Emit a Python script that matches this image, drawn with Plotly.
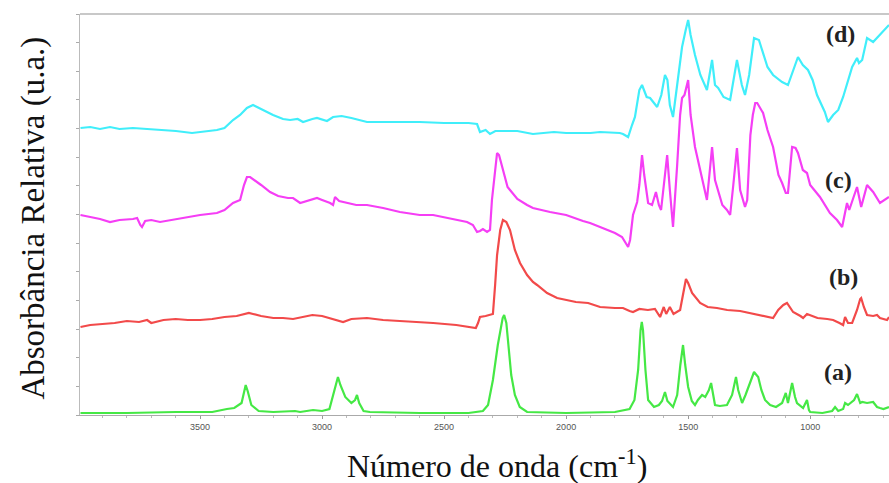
import plotly.graph_objects as go

# FTIR spectra, stacked with vertical offsets (wavenumber in cm-1, relative absorbance)
wn_a = [3990, 3800, 3600, 3450, 3390, 3360, 3330, 3318, 3313, 3305, 3290, 3260, 3200, 3111, 3090,
        3037, 3000, 2970, 2955, 2945, 2935, 2925, 2905, 2880, 2865, 2857, 2848, 2830, 2804, 2600,
        2400, 2341, 2320, 2300, 2280, 2260, 2254, 2245, 2225, 2210, 2190, 2160, 2000, 1800, 1740,
        1720, 1705, 1695, 1690, 1685, 1675, 1664, 1640, 1620, 1607, 1595, 1585, 1562, 1545, 1532,
        1521, 1512, 1500, 1485, 1472, 1460, 1443, 1430, 1415, 1406, 1398, 1390, 1370, 1341, 1320,
        1304, 1295, 1279, 1265, 1254, 1240, 1230, 1220, 1213, 1200, 1185, 1164, 1140, 1115, 1100,
        1091, 1074, 1062, 1054, 1029, 1013, 1005, 1000, 950, 910, 898, 885, 865, 857, 845,
        820, 808, 795, 787, 767, 742, 726, 714, 700, 677]
ab_a = [2, 2, 3, 3, 6, 7, 12, 25, 30, 24, 10, 4, 3, 4, 3,
        5, 4, 6, 20, 28, 38, 30, 18, 12, 15, 20, 12, 4, 3, 2,
        2, 4, 10, 35, 70, 97, 100, 92, 40, 20, 8, 3, 2, 3, 6,
        15, 45, 85, 93, 85, 45, 15, 8, 10, 14, 23, 14, 8, 20, 50,
        70, 50, 28, 14, 10, 15, 20, 18, 25, 32, 22, 10, 9, 10, 20,
        38, 25, 12, 20, 27, 35, 43, 40, 38, 25, 15, 10, 8, 12, 22,
        12, 32, 18, 12, 7, 15, 5, 3, 2, 4, 8, 4, 6, 12, 10,
        15, 21, 12, 13, 12, 13, 8, 7, 6, 8]

wn_b = [3990, 3950, 3900, 3850, 3800, 3750, 3717, 3700, 3650, 3600, 3550, 3500, 3450, 3400, 3350,
        3300, 3283, 3250, 3200, 3160, 3119, 3080, 3040, 3000, 2960, 2914, 2880, 2816, 2750, 2681,
        2600, 2545, 2450, 2394, 2370, 2361, 2353, 2330, 2312, 2300, 2291, 2283, 2270, 2259, 2245,
        2230, 2210, 2189, 2160, 2136, 2119, 2100, 2078, 2037, 2000, 1960, 1910, 1861, 1800, 1767,
        1740, 1726, 1700, 1665, 1636, 1615, 1600, 1590, 1575, 1560, 1533, 1520, 1509, 1500, 1484,
        1451, 1420, 1382, 1340, 1287, 1250, 1230, 1200, 1164, 1152, 1131, 1110, 1095, 1080, 1070,
        1040, 1029, 1013, 1000, 970, 930, 906, 880, 865, 857, 845, 828, 808, 795, 791,
        780, 767, 742, 726, 714, 700, 685, 677]
ab_b = [88, 90, 91, 92, 94, 93, 95, 92, 95, 96, 95, 95, 96, 98, 99,
        102, 101, 99, 97, 97, 96, 98, 100, 99, 96, 93, 96, 97, 95, 94,
        93, 92, 90, 88, 87, 92, 98, 99, 100, 101, 130, 160, 185, 195, 193,
        185, 165, 152, 140, 133, 130, 126, 122, 117, 115, 113, 112, 108, 107, 107,
        104, 103, 106, 105, 106, 98, 108, 101, 108, 101, 105, 120, 136, 132, 122,
        112, 108, 107, 105, 104, 102, 101, 100, 98, 97, 105, 110, 112, 106, 103,
        99, 97, 101, 100, 97, 96, 95, 92, 90, 98, 92, 92, 105, 116, 117,
        108, 100, 99, 100, 97, 96, 95, 98]

wn_c = [3990, 3950, 3910, 3869, 3830, 3775, 3758, 3745, 3738, 3725, 3700, 3664, 3600, 3550, 3500,
        3431, 3400, 3365, 3336, 3320, 3308, 3295, 3283, 3250, 3213, 3180, 3140, 3119, 3090, 3060,
        3021, 3000, 2967, 2955, 2947, 2930, 2900, 2860, 2816, 2750, 2681, 2600, 2545, 2480, 2406,
        2382, 2365, 2353, 2341, 2324, 2312, 2304, 2290, 2283, 2275, 2259, 2240, 2230, 2200, 2160,
        2136, 2066, 2000, 1931, 1902, 1861, 1800, 1771, 1755, 1746, 1738, 1726, 1709, 1700, 1689,
        1680, 1664, 1648, 1632, 1620, 1611, 1595, 1586, 1575, 1562, 1545, 1533, 1525, 1515, 1500,
        1490, 1472, 1455, 1443, 1430, 1423, 1413, 1402, 1390, 1382, 1360, 1341, 1328, 1315, 1300,
        1287, 1267, 1258, 1245, 1235, 1225, 1217, 1193, 1175, 1152, 1130, 1115, 1100, 1091, 1074,
        1060, 1050, 1030, 1013, 1000, 960, 919, 890, 869, 849, 840, 808, 791, 767, 742,
        714, 677]
ab_c = [200, 198, 196, 193, 195, 196, 197, 190, 188, 194, 195, 193, 196, 198, 200,
        202, 205, 212, 215, 230, 238, 238, 236, 230, 223, 219, 217, 217, 212, 214,
        217, 215, 212, 210, 218, 214, 212, 210, 210, 207, 203, 200, 200, 197, 193,
        190, 183, 184, 186, 183, 185, 215, 250, 262, 260, 245, 228, 225, 216, 210,
        207, 203, 200, 194, 192, 188, 182, 178, 172, 168, 175, 200, 213, 230, 260,
        240, 212, 210, 223, 210, 205, 245, 260, 225, 188, 250, 300, 317, 320, 335,
        300, 268, 250, 238, 225, 215, 240, 268, 235, 228, 210, 205, 200, 230, 267,
        225, 208, 215, 280, 300, 312, 312, 302, 285, 268, 240, 232, 222, 222, 268,
        267, 262, 245, 242, 230, 218, 202, 195, 188, 212, 205, 228, 208, 230, 223,
        212, 218]

wn_d = [3990, 3950, 3910, 3869, 3830, 3775, 3717, 3650, 3599, 3533, 3500, 3431, 3400, 3365, 3336,
        3308, 3283, 3267, 3226, 3201, 3160, 3131, 3100, 3078, 3040, 3021, 2980, 2955, 2920, 2880,
        2816, 2700, 2600, 2500, 2400, 2365, 2353, 2330, 2312, 2290, 2250, 2200, 2136, 2050, 2000,
        1900, 1861, 1780, 1767, 1746, 1730, 1718, 1700, 1689, 1670, 1656, 1640, 1627, 1610, 1595,
        1585, 1575, 1562, 1550, 1533, 1525, 1510, 1500, 1490, 1472, 1450, 1423, 1402, 1390, 1377,
        1355, 1328, 1300, 1280, 1267, 1250, 1230, 1210, 1193, 1175, 1152, 1115, 1091, 1070, 1050,
        1030, 1009, 990, 972, 940, 927, 906, 885, 865, 845, 828, 808, 800, 787, 767,
        742, 714, 677]
ab_d = [287, 288, 286, 288, 286, 287, 286, 285, 284, 282, 283, 285, 287, 295, 300,
        307, 310, 308, 303, 300, 296, 295, 296, 293, 296, 297, 294, 298, 299, 297,
        293, 293, 293, 292, 292, 291, 283, 285, 281, 284, 284, 284, 281, 283, 282,
        282, 283, 282, 281, 278, 290, 298, 325, 330, 318, 317, 312, 308, 320, 340,
        335, 310, 298, 320, 355, 368, 385, 395, 380, 360, 340, 325, 355, 330, 327,
        318, 315, 355, 330, 320, 340, 377, 375, 362, 348, 340, 333, 330, 345, 358,
        350, 345, 335, 320, 303, 293, 300, 305, 318, 335, 348, 357, 352, 355, 377,
        373, 380, 390]

labels = ["(a)", "(b)", "(c)", "(d)"]
label_wn = [885, 865, 885, 877]
label_ab = [43, 138, 235, 381]
colors = ["#45e845", "#f24a4a", "#f53ef5", "#40eefa"]

series = [(wn_a, ab_a), (wn_b, ab_b), (wn_c, ab_c), (wn_d, ab_d)]

fig = go.Figure()
for (xs, ys), col, name in zip(series, colors, labels):
    fig.add_trace(go.Scatter(x=xs, y=ys, mode="lines", name=name,
                             line=dict(color=col, width=2.2), showlegend=False))

for txt, lx, ly in zip(labels, label_wn, label_ab):
    fig.add_annotation(x=lx, y=ly, text="<b>" + txt + "</b>", showarrow=False,
                       font=dict(family="Liberation Serif", size=24, color="#222"))

fig.add_annotation(xref="paper", yref="paper", x=-0.058, y=0.49, textangle=-90,
                   xanchor="center", yanchor="middle",
                   text="Absorbância Relativa (u.a.)", showarrow=False,
                   font=dict(family="Liberation Serif", size=33, color="#111"))
fig.add_annotation(xref="paper", yref="paper", x=0.515, y=-0.122,
                   xanchor="center", yanchor="middle",
                   text="Número de onda (cm<sup>-1</sup>)", showarrow=False,
                   font=dict(family="Liberation Serif", size=32, color="#111"))

# light frame line along the top of the plot area
fig.add_shape(type="line", xref="paper", yref="paper", x0=0, x1=1, y0=1, y1=1,
              line=dict(color="#c8c8c8", width=2))

fig.update_layout(
    width=889, height=483,
    margin=dict(l=80, r=0, t=14, b=68),
    paper_bgcolor="white", plot_bgcolor="white",
    xaxis=dict(range=[3992, 677], showgrid=False, zeroline=False,
               tickvals=[3500, 3000, 2500, 2000, 1500, 1000],
               ticks="outside", ticklen=3, tickcolor="#999",
               minor=dict(dtick=100, ticks="outside", ticklen=2, tickcolor="#bbb"),
               showline=True, linecolor="#aaa", linewidth=1,
               tickfont=dict(family="Liberation Sans", size=9, color="#555")),
    yaxis=dict(range=[0, 401], showgrid=False, zeroline=False, showticklabels=False,
               tick0=0, dtick=401 / 14, ticks="outside", ticklen=3, tickcolor="#aaa",
               showline=True, linecolor="#bbb", linewidth=1),
)

fig.write_html("out.html")
